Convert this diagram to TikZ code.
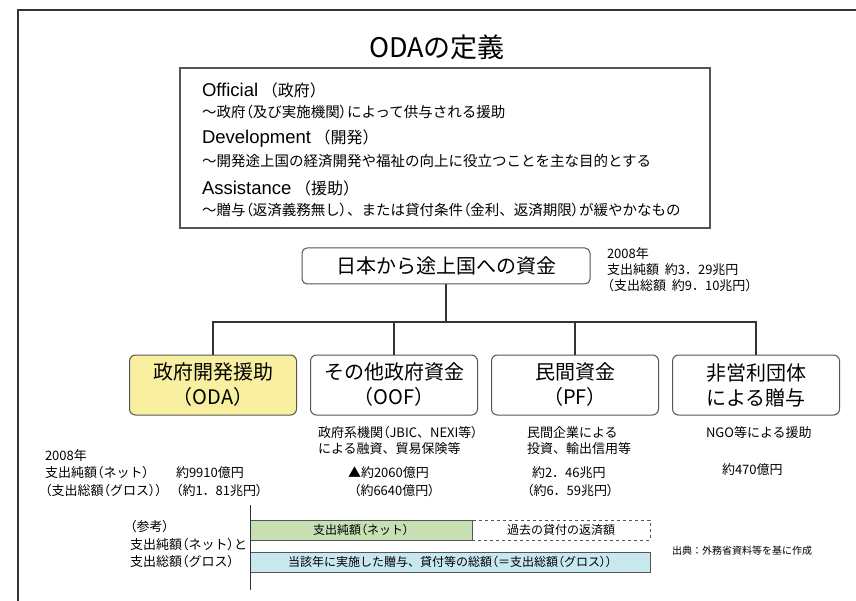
\documentclass[tikz,border=0pt]{standalone}
\usepackage{fontspec}
\setmainfont{Noto Sans CJK JP}
\newfontfamily\pfont[RawFeature=+palt]{Noto Sans CJK JP}
\newfontfamily\latin{Liberation Sans}
\newcommand\lp{{\pfont （}}
\newcommand\rp{{\pfont ）}}
\definecolor{linegray}{HTML}{555555}
\definecolor{conngray}{HTML}{333333}
\definecolor{odayellow}{HTML}{F8F0A0}
\definecolor{netgreen}{HTML}{C6E0B4}
\definecolor{grossblue}{HTML}{C8E8F0}
\begin{document}
\begin{tikzpicture}[x=1pt,y=-1pt,
  every node/.style={inner sep=0pt, outer sep=0pt},
  fbox/.style={draw=linegray, line width=1pt, rounded corners=6pt, minimum width=167pt, minimum height=60pt, align=center, font=\fontsize{20}{25}\selectfont},
  lbl/.style={anchor=west, font=\fontsize{13}{15}\selectfont},
  deflat/.style={anchor=west, font=\fontsize{16}{18}\selectfont},
  defsub/.style={anchor=west, font=\fontsize{14.5}{16}\selectfont},
  conn/.style={draw=conngray, line width=1.2pt},
  bar/.style={draw=linegray, line width=0.8pt, minimum height=20pt, font=\fontsize{12}{15}\selectfont}
]
\useasboundingbox (0,0) rectangle (856,601);
% outer frame
\coordinate (fr1) at (18,601);
\coordinate (fr2) at (18,10);
\coordinate (fr3) at (856,10);
\draw[draw=conngray, line width=1.2pt] (fr1) -- (fr2) -- (fr3);

\node[font=\fontsize{27}{32}\selectfont] (title) at (437,47) {ODAの定義};

% definition box
\node[draw=linegray, line width=1.2pt, minimum width=530pt, minimum height=160pt] (def) at (445,148) {};
\node[deflat] (d1) at (202,90) {{\latin\fontsize{18.5}{20}\selectfont Official}\ （政府）};
\node[defsub] (d2) at (202,112) {～政府\lp 及び実施機関\rp によって供与される援助};
\node[deflat] (d3) at (202,139) {{\latin\fontsize{18.5}{20}\selectfont Development}\ （開発）};
\node[defsub] (d4) at (202,161) {～開発途上国の経済開発や福祉の向上に役立つことを主な目的とする};
\node[deflat] (d5) at (202,188) {{\latin\fontsize{18.5}{20}\selectfont Assistance}\ （援助）};
\node[defsub] (d6) at (202,210) {～贈与\lp 返済義務無し\rp 、または貸付条件\lp 金利、返済期限\rp が緩やかなもの};

% main box
\node[draw=linegray, line width=1pt, rounded corners=5pt, minimum width=288pt, minimum height=36pt, font=\fontsize{20}{22}\selectfont] (top) at (446,266) {日本から途上国への資金};
\node[lbl] (tot1) at (607,254) {2008年};
\node[lbl] (tot2) at (607,270) {支出純額\ \ 約3．29兆円};
\node[lbl] (tot3) at (601,286) {（支出総額\ \ 約9．10兆円）};

% category boxes
\node[fbox, fill=odayellow] (oda) at (213,385) {政府開発援助\\（ODA）};
\node[fbox] (oof) at (394,385) {その他政府資金\\（OOF）};
\node[fbox] (pf) at (575,385) {民間資金\\（PF）};
\node[fbox] (npo) at (756,385) {非営利団体\\による贈与};

\coordinate (bus) at (446,322);
\draw[conn] (top.south) -- (bus);
\draw[conn] (oda.north) |- (bus);
\draw[conn] (oof.north) |- (bus);
\draw[conn] (pf.north) |- (bus);
\draw[conn] (npo.north) |- (bus);

% descriptions
\node[lbl] (oofd1) at (318,433) {政府系機関\lp JBIC、NEXI等\rp};
\node[lbl] (oofd2) at (318,449) {による融資、貿易保険等};
\node[lbl] (pfd1) at (527,433) {民間企業による};
\node[lbl] (pfd2) at (527,449) {投資、輸出信用等};
\node[lbl] (npod1) at (706,433) {NGO等による援助};

% amounts
\node[lbl] (yr) at (45,456) {2008年};
\node[lbl] (netl) at (45,473) {支出純額\lp ネット\rp};
\node[lbl] (grl) at (45,491) {\lp 支出総額\lp グロス\rp\rp};
\node[lbl] (odan) at (176,473) {約9910億円};
\node[lbl] (odag) at (176,491) {\lp 約1．81兆円\rp};
\node[lbl] (oofn) at (348,473) {▲約2060億円};
\node[lbl] (oofg) at (354,491) {\lp 約6640億円\rp};
\node[lbl] (pfn) at (532,473) {約2．46兆円};
\node[lbl] (pfg) at (527,491) {\lp 約6．59兆円\rp};
\node[lbl] (npon) at (722,470) {約470億円};

% reference section
\node[lbl] (ref1) at (130,527) {\lp 参考\rp};
\node[lbl] (ref2) at (130,545) {支出純額\lp ネット\rp と};
\node[lbl] (ref3) at (130,562) {支出総額\lp グロス\rp};

\node[bar, fill=netgreen, minimum width=222pt] (net) at (361,530) {支出純額\lp ネット\rp};
\node[bar, dashed, minimum width=178pt] (ret) at (561,530) {過去の貸付の返済額};
\node[bar, fill=grossblue, minimum width=400pt] (gross) at (450,562) {当該年に実施した贈与、貸付等の総額\lp ＝支出総額\lp グロス\rp\rp};

\coordinate (vt) at (250,505);
\coordinate (vb) at (250,590);
\draw[draw=conngray, line width=0.8pt] (vt) -- (vb);

\node[anchor=west, font=\fontsize{10}{12}\selectfont] (src) at (672,551) {出典：外務省資料等を基に作成};
\end{tikzpicture}
\end{document}
